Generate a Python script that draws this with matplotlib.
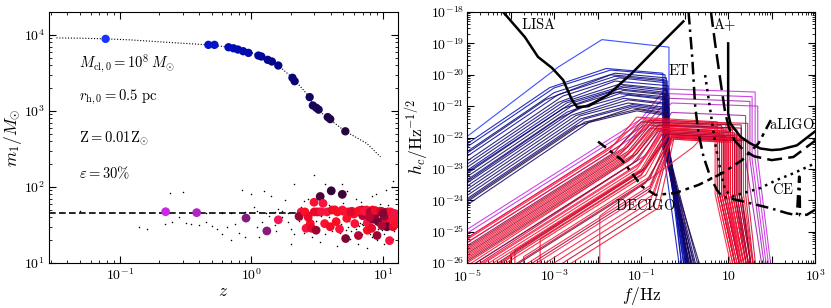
import numpy as np
import matplotlib.pyplot as plt
from matplotlib.colors import LinearSegmentedColormap
from matplotlib.ticker import FixedLocator, FuncFormatter, NullFormatter, LogLocator

plt.rcParams['mathtext.fontset'] = 'cm'
plt.rcParams['font.family'] = 'serif'
plt.rcParams['font.serif'] = ['DejaVu Serif']
plt.rcParams['xtick.direction'] = 'in'
plt.rcParams['ytick.direction'] = 'in'
plt.rcParams['xtick.top'] = True
plt.rcParams['ytick.right'] = True

# ---------------- left panel data: m1 vs z ----------------
# evolution of the growing seed (small dots along the track)
z_path = [0.033, 0.05, 0.078, 0.12, 0.227, 0.47, 0.69, 0.92, 1.13, 1.39, 1.6, 2.09,
          2.77, 2.97, 3.86, 5.17, 7.57, 9.56]
m_path = [9130, 9050, 8870, 8600, 8000, 7400, 6880, 6220, 5350, 4600, 3960, 2650,
          1520, 1150, 790, 540, 372, 249]

# mergers involving the seed (z, m1, colour value)
z_up = [0.078, 0.471, 0.524, 0.67, 0.73, 0.79, 0.866, 0.95, 1.13, 1.19, 1.33, 1.43,
        1.6, 2.05, 2.13, 2.77, 2.93, 3.11, 3.24, 3.8, 3.97, 5.17]
m_up = [8870, 7400, 7400, 6880, 6670, 6420, 6100, 5800, 5350, 5200, 4700, 4470,
        3960, 2730, 2460, 1520, 1180, 1100, 1040, 830, 780, 540]
c_up = [0.0, 0.1, 0.1, 0.13, 0.13, 0.14, 0.15, 0.15, 0.17, 0.18, 0.19, 0.2,
        0.21, 0.24, 0.25, 0.28, 0.29, 0.3, 0.3, 0.32, 0.33, 0.36]

# other detectable mergers
z_low = [0.223, 0.384, 0.91, 1.31, 1.6, 2.39, 2.3, 2.6, 2.8, 2.87, 3.1, 2.99, 3.33, 3.5,
         4.04, 4.9, 3.15, 3.75, 4.1, 4.5, 4.9, 5.4, 6.3, 6.9, 7.5, 8.3, 9.1, 9.95, 10.9,
         11.9, 12.6, 3.6, 3.97, 4.67, 5.3, 5.2, 6.5, 7.6, 7.6, 8.2, 9.0, 8.4, 9.2, 10.7,
         10.7, 11.9, 11.9, 11.2, 9.8, 6.0, 7.0, 8.8, 10.2, 5.8, 3.3,
         2.55, 3.0, 3.4, 4.3, 5.0, 5.7, 6.6, 7.2, 8.0, 8.7, 9.6, 10.4, 11.4, 12.2,
         4.4, 6.1, 7.9, 10.0, 12.4, 2.7]
m_low = [47.3, 46, 39, 26.4, 37, 47, 41, 28.6, 33, 28.6, 27, 63, 75, 61,
         89, 80, 47, 47, 49.8, 47, 49.8, 47, 47, 49.8, 49.8, 49.8, 47, 47, 47,
         44, 42, 33, 30, 28, 38.7, 21, 23, 34, 27, 28.6, 23, 37.6, 35, 36.5,
         30, 37.6, 30, 19.7, 31, 44, 42, 44, 41, 48, 47,
         47, 47, 47, 50, 48, 47, 49, 48, 47, 49, 48, 46, 47, 45,
         35, 33, 40, 45, 33, 40]
c_low = [1.0, 0.98, 0.94, 0.93, 0.84, 0.8, 0.55, 0.8, 0.75, 0.7, 0.55, 0.78, 0.42, 0.8,
         0.38, 0.4, 0.75, 0.8, 0.7, 0.75, 0.8, 0.72, 0.76, 0.6, 0.78, 0.74, 0.55, 0.5, 0.78,
         0.76, 0.8, 0.78, 0.72, 0.8, 0.76, 0.5, 0.6, 0.8, 0.74, 0.7, 0.55, 0.5, 0.48, 0.72,
         0.45, 0.8, 0.7, 0.8, 0.6, 0.78, 0.6, 0.5, 0.55, 0.8, 0.65,
         0.76, 0.7, 0.8, 0.74, 0.78, 0.68, 0.75, 0.8, 0.6, 0.72, 0.66, 0.55, 0.78, 0.8,
         0.74, 0.79, 0.62, 0.5, 0.77, 0.7]

# all BBH mergers in the cluster (small black dots), (z, m1)
dots = [
    (0.05, 48), (0.14, 30), (0.16, 28), (0.24, 83), (0.30, 85), (0.22, 33), (0.25, 35),
    (0.32, 34), (0.35, 33), (0.40, 32), (0.45, 35), (0.5, 31), (0.55, 28), (0.6, 24),
    (0.65, 30), (0.7, 20), (0.75, 33), (0.8, 25), (0.85, 90), (0.9, 22), (1.0, 80),
    (1.05, 55), (1.1, 30), (1.2, 35), (1.25, 88), (1.35, 42), (1.4, 75), (1.5, 32),
    (1.6, 52), (1.7, 40), (1.8, 68), (1.9, 35), (2.0, 18), (2.0, 28), (2.1, 110),
    (2.2, 42), (2.3, 36), (2.4, 55), (2.5, 25), (2.6, 32), (2.7, 70), (2.8, 40),
    (2.9, 22), (3.0, 145), (3.1, 36), (3.2, 52), (3.3, 19), (3.4, 42), (3.6, 110),
    (3.7, 34), (3.8, 28), (4.0, 100), (4.1, 26), (4.2, 52), (4.4, 38), (4.5, 17),
    (4.6, 44), (4.8, 33), (5.0, 62), (5.2, 27), (5.3, 88), (5.5, 36), (5.6, 21),
    (5.8, 42), (6.0, 30), (6.2, 70), (6.4, 32), (6.5, 18), (6.8, 39), (7.0, 28),
    (7.2, 55), (7.4, 34), (7.6, 16), (7.8, 41), (8.0, 24), (8.2, 75), (8.4, 36),
    (8.6, 29), (8.8, 45), (9.0, 20), (9.2, 33), (9.4, 60), (9.6, 38), (9.8, 27),
    (10.0, 42), (10.2, 18), (10.4, 35), (10.6, 90), (10.8, 30), (11.0, 44), (11.2, 22),
    (11.4, 38), (11.6, 100), (11.8, 32), (12.0, 40), (12.2, 26), (12.4, 48), (12.5, 70),
    (5.8, 34), (6.1, 33), (6.3, 35), (6.6, 31), (6.9, 33), (7.1, 32), (7.3, 30),
    (7.7, 31), (7.9, 33), (8.3, 32), (6.0, 36), (6.7, 34), (5.5, 40), (5.9, 44),
    (6.4, 46), (7.5, 47), (8.5, 46), (9.5, 47), (10.5, 46), (11.5, 45), (0.45, 46),
    (0.6, 45), (0.7, 46), (0.9, 47), (1.1, 48), (1.3, 46), (1.5, 47), (1.7, 48),
    (1.9, 46), (2.2, 44), (2.6, 43), (3.5, 45), (4.3, 44), (5.1, 46), (6.6, 45),
    (7.3, 44), (8.1, 43), (9.3, 45), (10.3, 44), (11.3, 46), (12.3, 44),
    (2.1, 24), (2.4, 38), (2.8, 30), (3.2, 27), (3.6, 24), (3.9, 40), (4.2, 31),
    (4.7, 25), (5.0, 38), (5.4, 30), (5.7, 26), (6.2, 28), (6.9, 24), (7.4, 38),
    (7.8, 27), (8.2, 22), (8.7, 34), (9.1, 28), (9.7, 31), (10.1, 24), (10.9, 37),
    (11.4, 28), (11.9, 21), (12.3, 34), (2.5, 65), (3.9, 58), (4.9, 110), (6.8, 64),
    (8.9, 80), (10.9, 58), (12.0, 120), (1.15, 22), (1.55, 26), (0.95, 40), (0.28, 40),
]
z_dots = [d[0] for d in dots]
m_dots = [d[1] for d in dots]

m_pair = 45.0  # dashed reference mass

labels_left = [r'$M_{\rm cl,0} = 10^8\,M_{\odot}$', r'$r_{\rm h,0} = 0.5\ {\rm pc}$',
               r'$\mathrm{Z} = 0.01\mathrm{Z}_{\odot}$', r'$\varepsilon = 30\%$']

# ---------------- right panel data: characteristic strain ----------------
# detector curves, log10 f and log10 h
lisa_lf = [-4.17, -3.67, -3.37, -3.05, -2.79, -2.59, -2.47, -2.21, -1.76, -1.21, -0.68, -0.03]
lisa_lh = [-18.0, -18.8, -19.43, -19.78, -20.17, -20.8, -21.03, -21.0, -20.64, -19.95, -19.2, -18.3]
et_lf = [0.09, 0.18, 0.205, 0.243, 0.319, 0.434, 0.588, 0.742, 0.857, 1.2, 1.966, 2.35,
         2.58, 2.63, 2.64, 2.65, 2.81, 3.0]
et_lh = [-18.0, -19.54, -20.17, -21.02, -21.87, -22.61, -23.25, -23.67, -23.88, -23.99,
         -24.25, -24.41, -24.48, -23.25, -23.25, -24.48, -24.46, -24.3]
aligo_lf = [1.0, 1.0, 1.05, 1.28, 1.5, 1.74, 2.0, 2.2, 2.58, 3.0]
aligo_lh = [-19.0, -21.23, -21.55, -21.97, -22.18, -22.35, -22.4, -22.38, -22.25, -21.8]
aplus_lf = [0.605, 0.70, 0.82, 0.93, 1.02, 1.15, 1.35, 1.6, 2.0, 2.5, 3.0]
aplus_lh = [-18.0, -19.0, -20.17, -21.2, -21.7, -22.1, -22.4, -22.6, -22.72, -22.62, -22.1]
ce_lf = [0.47, 0.59, 0.7, 0.82, 0.93, 1.09, 1.35, 1.74, 2.12, 2.5, 3.0]
ce_lh = [-20.01, -21.13, -22.18, -23.03, -23.67, -23.88, -23.77, -23.61, -23.35, -23.14, -22.82]
decigo_lf = [-1.99, -1.44, -0.98, -0.67, -0.22, 0.32, 0.86, 1.32, 1.7, 2.0]
decigo_lh = [-22.13, -22.72, -23.56, -23.83, -23.77, -23.51, -23.14, -22.72, -22.18, -21.39]

det_names = ['LISA', 'ET', 'A+', 'aLIGO', 'CE', 'DECIGO']
det_label_lf = [-3.36, -0.125, 0.93, 2.47, 2.27, -0.9]
det_label_lh = [-18.39, -19.85, -18.39, -21.6, -23.67, -24.18]

# source tracks: (lf_start, lh_start, lf_bend, lh_bend, lf_plat, lh_plat,
#                 lf_cut, lh_cut, lf_end, colour value)
blue_tracks = [
    (-5, -21.97, -2.9, -19.75, -1.9, -18.88, -0.36, -19.12, -0.05, 0.0),
    (-5, -22.30, -3.0, -20.42, -1.7, -19.85, -0.45, -20.0, 0.05, 0.14),
    (-5, -22.45, -3.0, -20.57, -1.6, -19.95, -0.42, -20.1, 0.10, 0.2),
    (-5, -22.60, -2.9, -20.63, -1.6, -20.05, -0.40, -20.2, 0.0, 0.16),
    (-5, -22.75, -2.8, -20.68, -1.5, -20.10, -0.45, -20.25, 0.12, 0.28),
    (-5, -22.85, -2.9, -20.88, -1.6, -20.20, -0.38, -20.35, 0.08, 0.18),
    (-5, -22.95, -2.8, -20.88, -1.5, -20.30, -0.42, -20.45, 0.15, 0.3),
    (-5, -23.05, -2.7, -20.89, -1.4, -20.35, -0.40, -20.5, -0.05, 0.2),
    (-5, -23.15, -2.8, -21.08, -1.5, -20.45, -0.45, -20.6, 0.20, 0.24),
    (-5, -23.25, -2.6, -21.00, -1.4, -20.50, -0.36, -20.65, 0.10, 0.32),
    (-5, -23.35, -2.7, -21.19, -1.5, -20.60, -0.42, -20.75, 0.02, 0.17),
    (-5, -23.45, -2.5, -21.10, -1.3, -20.65, -0.38, -20.8, 0.18, 0.26),
    (-5, -23.55, -2.6, -21.29, -1.4, -20.75, -0.44, -20.9, 0.08, 0.2),
    (-5, -23.65, -2.5, -21.30, -1.3, -20.80, -0.40, -20.95, 0.25, 0.33),
    (-5, -23.75, -2.4, -21.31, -1.3, -20.90, -0.36, -21.05, 0.12, 0.22),
    (-5, -23.85, -2.4, -21.41, -1.2, -20.95, -0.42, -21.1, 0.30, 0.3),
    (-5, -23.95, -2.3, -21.41, -1.2, -21.00, -0.38, -21.15, 0.05, 0.19),
    (-5, -24.05, -2.3, -21.51, -1.1, -21.10, -0.44, -21.25, 0.20, 0.34),
    (-5, -24.15, -2.2, -21.52, -1.1, -21.15, -0.40, -21.3, 0.35, 0.25),
    (-5, -22.20, -3.1, -20.41, -1.8, -19.80, -0.50, -19.95, -0.10, 0.12),
    (-5, -22.50, -3.2, -20.80, -1.7, -20.00, -0.48, -20.15, 0.15, 0.27),
    (-5, -23.40, -2.9, -21.40, -1.6, -20.55, -0.46, -20.7, 0.22, 0.31),
    (-5, -23.10, -2.6, -20.90, -1.4, -20.40, -0.50, -20.55, 0.28, 0.21),
    (-5, -24.00, -2.5, -21.65, -1.2, -21.05, -0.47, -21.2, 0.40, 0.35),
]
red_tracks = [
    (-5, -25.20, -1.6, -22.20, -1.0, -21.40, 0.95, -21.55, 1.30, 0.78),
    (-5, -25.35, -1.5, -22.27, -0.9, -21.45, 1.05, -21.60, 1.40, 0.72),
    (-5, -25.50, -1.4, -22.33, -0.9, -21.50, 0.85, -21.62, 1.25, 0.6),
    (-5, -25.60, -1.4, -22.43, -0.8, -21.55, 1.10, -21.70, 1.45, 0.76),
    (-5, -25.70, -1.3, -22.44, -0.8, -21.60, 0.90, -21.72, 1.30, 0.52),
    (-5, -25.80, -1.3, -22.54, -0.7, -21.62, 1.20, -21.75, 1.50, 0.8),
    (-5, -25.90, -1.2, -22.56, -0.7, -21.65, 0.80, -21.78, 1.20, 0.7),
    (-5, -26.00, -1.2, -22.66, -0.6, -21.70, 1.00, -21.80, 1.35, 0.75),
    (-4.8, -26.0, -1.1, -22.74, -0.6, -21.75, 1.15, -21.85, 1.50, 0.56),
    (-4.6, -26.0, -1.1, -22.92, -0.5, -21.80, 0.90, -21.90, 1.30, 0.79),
    (-4.4, -26.0, -1.0, -23.01, -0.5, -21.85, 1.25, -21.95, 1.55, 0.74),
    (-4.2, -26.0, -1.0, -23.18, -0.4, -21.90, 0.95, -22.00, 1.35, 0.66),
    (-4.0, -25.7, -0.9, -22.97, -0.4, -21.95, 1.10, -22.05, 1.45, 0.78),
    (-3.8, -26.0, -0.9, -23.45, -0.3, -22.00, 0.80, -22.10, 1.20, 0.5),
    (-3.6, -26.0, -0.8, -23.54, -0.3, -21.95, 1.30, -22.05, 1.60, 0.77),
    (-3.4, -26.0, -0.8, -23.71, -0.25, -22.00, 1.00, -22.10, 1.40, 0.82),
    (-3.32, -25.25, -1.0, -23.21, -0.35, -21.90, 1.20, -22.00, 1.50, 0.7),
    (-3.0, -26.0, -0.8, -24.06, -0.3, -22.05, 0.90, -22.15, 1.30, 0.76),
    (-2.8, -26.0, -0.7, -24.15, -0.3, -22.00, 1.40, -22.10, 1.60, 0.58),
    (-1.95, -24.5, 0.2, -22.30, 0.4, -22.00, 1.00, -22.10, 1.30, 0.8),
    (-5, -25.25, -1.7, -22.35, -1.1, -21.35, 0.75, -21.50, 1.15, 0.74),
    (-5, -25.45, -1.6, -22.46, -1.0, -21.50, 1.30, -21.60, 1.55, 0.54),
    (-5, -25.65, -1.5, -22.57, -0.9, -21.60, 0.70, -21.70, 1.10, 0.79),
    (-5, -25.85, -1.4, -22.68, -0.8, -21.70, 1.05, -21.80, 1.40, 0.68),
    (-4.9, -26.0, -1.3, -22.74, -0.7, -21.75, 0.85, -21.85, 1.25, 0.77),
    (-4.7, -26.0, -1.2, -22.83, -0.6, -21.80, 1.20, -21.90, 1.50, 0.62),
    (-4.5, -26.0, -1.1, -23.01, -0.5, -21.85, 0.95, -21.95, 1.30, 0.8),
    (-4.3, -26.0, -1.0, -23.10, -0.45, -21.90, 1.15, -22.00, 1.45, 0.5),
    (-4.1, -26.0, -0.9, -23.20, -0.4, -21.95, 1.35, -22.05, 1.60, 0.75),
    (-3.9, -25.6, -0.9, -22.96, -0.35, -21.90, 0.90, -22.00, 1.30, 0.64),
    (-3.7, -25.8, -0.8, -23.25, -0.3, -21.95, 1.05, -22.05, 1.40, 0.78),
    (-3.5, -26.0, -0.8, -23.62, -0.3, -22.00, 1.25, -22.10, 1.55, 0.55),
    (-3.2, -26.0, -0.7, -23.80, -0.3, -22.00, 0.85, -22.10, 1.20, 0.8),
    (-2.6, -26.0, -0.6, -24.24, -0.25, -22.05, 1.10, -22.15, 1.45, 0.72),
    (-5, -25.55, -1.3, -22.29, -0.8, -21.45, 1.45, -21.55, 1.65, 0.66),
    (-5, -25.75, -1.2, -22.41, -0.7, -21.55, 0.75, -21.65, 1.15, 0.77),
    (-5, -25.95, -1.1, -22.52, -0.6, -21.60, 1.30, -21.70, 1.55, 0.52),
    (-4.65, -26.0, -1.0, -22.79, -0.5, -21.70, 1.00, -21.80, 1.35, 0.79),
    (-4.25, -26.0, -0.9, -22.99, -0.4, -21.75, 0.80, -21.85, 1.20, 0.7),
    (-3.85, -26.0, -0.8, -23.32, -0.35, -21.85, 1.15, -21.95, 1.50, 0.6),
]
magenta_tracks = [
    (-5, -24.93, -1.0, -21.41, -0.45, -20.45, 1.62, -20.55, 1.95, 1.0),
    (-5, -25.05, -1.0, -21.53, -0.40, -20.60, 1.55, -20.70, 1.90, 0.99),
    (-5, -25.20, -0.9, -21.59, -0.35, -20.75, 1.50, -20.85, 1.85, 0.97),
    (-5, -25.35, -0.9, -21.74, -0.30, -20.90, 1.68, -21.00, 2.00, 0.99),
    (-4.8, -26.0, -0.9, -22.57, -0.30, -21.20, 1.40, -21.30, 1.80, 0.96),
]
drop_level = {'blue': -22.3, 'red': -23.8, 'magenta': -22.7}
h_floor = -26.3

cmap = LinearSegmentedColormap.from_list('events', [
    (0.0, (0.1, 0.2, 1.0)), (0.12, (0.0, 0.05, 0.75)), (0.22, (0.02, 0.02, 0.5)),
    (0.36, (0.15, 0.02, 0.22)), (0.5, (0.5, 0.02, 0.2)), (0.65, (0.82, 0.02, 0.2)),
    (0.75, (1.0, 0.05, 0.12)), (0.86, (0.92, 0.1, 0.4)), (0.94, (0.5, 0.1, 0.5)),
    (1.0, (0.8, 0.15, 0.9))])

fig = plt.figure(figsize=(8.31, 3.08), dpi=100)
ax1 = fig.add_axes([0.059, 0.146, 0.42, 0.815])
ax2 = fig.add_axes([0.562, 0.146, 0.419, 0.815])

# ---- left panel ----
ax1.set_xscale('log')
ax1.set_yscale('log')
ax1.plot(z_path, m_path, color='k', lw=0.8, ls=(0, (1, 1.6)), zorder=2)
ax1.scatter(z_dots, m_dots, s=1.2, color='k', lw=0, zorder=2)
ax1.axhline(m_pair, color='k', ls=(0, (4, 2)), lw=1.2, zorder=3)
ax1.scatter(z_up, m_up, s=36, c=cmap(np.array(c_up)), lw=0, zorder=4)
ax1.scatter(z_low, m_low, s=40, c=cmap(np.array(c_low)), lw=0, zorder=4)
ax1.set_xlim(0.029, 13)
ax1.set_ylim(10, 2e4)
for t, yf in zip(labels_left, [0.797, 0.661, 0.498, 0.359]):
    ax1.text(0.086, yf, t, transform=ax1.transAxes, fontsize=10.5, va='center')
ax1.set_xlabel(r'$z$', fontsize=12.5, labelpad=0)
ax1.set_ylabel(r'$m_1/M_{\odot}$', fontsize=12.5, labelpad=0)
pow_fmt = FuncFormatter(lambda v, p: r'$10^{%d}$' % round(np.log10(v)))
ax1.xaxis.set_major_formatter(pow_fmt)
ax1.yaxis.set_major_formatter(pow_fmt)
ax1.xaxis.set_minor_formatter(NullFormatter())
ax1.yaxis.set_minor_formatter(NullFormatter())

# ---- right panel ----
ax2.set_xscale('log')
ax2.set_yscale('log')


def draw_tracks(rows, family, lw, alpha):
    for fs, hs, fb, hb, fp, hp, fc, hc, fe, cv in rows:
        lf = [fs, fb, fp, fc, fc, fe]
        lh = [hs, hb, hp, hc, drop_level[family], h_floor]
        if fs > -5 and hs > -26:
            lf = [fs] + lf
            lh = [h_floor] + lh
        ax2.plot(10.0 ** np.array(lf), 10.0 ** np.array(lh), color=cmap(cv),
                 lw=lw, alpha=alpha, zorder=2)


draw_tracks(magenta_tracks, 'magenta', 0.8, 0.85)
draw_tracks(blue_tracks, 'blue', 0.8, 0.85)
draw_tracks(red_tracks, 'red', 0.8, 0.85)


def det(lf, lh, ls):
    ax2.plot(10.0 ** np.array(lf), 10.0 ** np.array(lh), color='k', lw=1.8, ls=ls, zorder=5)


det(lisa_lf, lisa_lh, '-')
det(et_lf, et_lh, (0, (5, 2, 1, 2)))
det(aligo_lf, aligo_lh, '-')
det(aplus_lf, aplus_lh, (0, (6, 2.5)))
det(ce_lf, ce_lh, (0, (1, 1.8)))
det(decigo_lf, decigo_lh, (0, (4, 2, 1.5, 2)))

for name, lf, lh in zip(det_names, det_label_lf, det_label_lh):
    ax2.text(10 ** lf, 10 ** lh, r'$\mathrm{%s}$' % name.replace('+', '{+}'), fontsize=10.5,
             ha='center', va='center', zorder=6)

ax2.set_xlim(1e-5, 1e3)
ax2.set_ylim(1e-26, 1e-18)
ax2.xaxis.set_major_locator(FixedLocator([10.0 ** k for k in range(-5, 4)]))
ax2.yaxis.set_major_locator(FixedLocator([10.0 ** k for k in range(-26, -17)]))
ax2.xaxis.set_minor_locator(LogLocator(base=10, subs=np.arange(2, 10), numticks=20))
ax2.yaxis.set_minor_locator(LogLocator(base=10, subs=np.arange(2, 10), numticks=20))


def f_fmt(v, p):
    k = round(np.log10(v))
    if k % 2 == 0:
        return ''
    if k == 1:
        return r'$10$'
    return r'$10^{%d}$' % k


ax2.xaxis.set_major_formatter(FuncFormatter(f_fmt))
ax2.yaxis.set_major_formatter(pow_fmt)
ax2.xaxis.set_minor_formatter(NullFormatter())
ax2.yaxis.set_minor_formatter(NullFormatter())
ax2.set_xlabel(r'$f/\mathrm{Hz}$', fontsize=12.5, labelpad=0)
ax2.set_ylabel(r'$h_c/\mathrm{Hz}^{-1/2}$', fontsize=12.5, labelpad=0)

for ax in (ax1, ax2):
    ax.tick_params(which='both', labelsize=10, pad=3)
    ax.tick_params(which='major', length=5)
    ax.tick_params(which='minor', length=2.5)
ax2.tick_params(axis='y', which='both', pad=2)
ax2.tick_params(axis='x', which='both', pad=4)

fig.savefig('out.png', dpi=100)
